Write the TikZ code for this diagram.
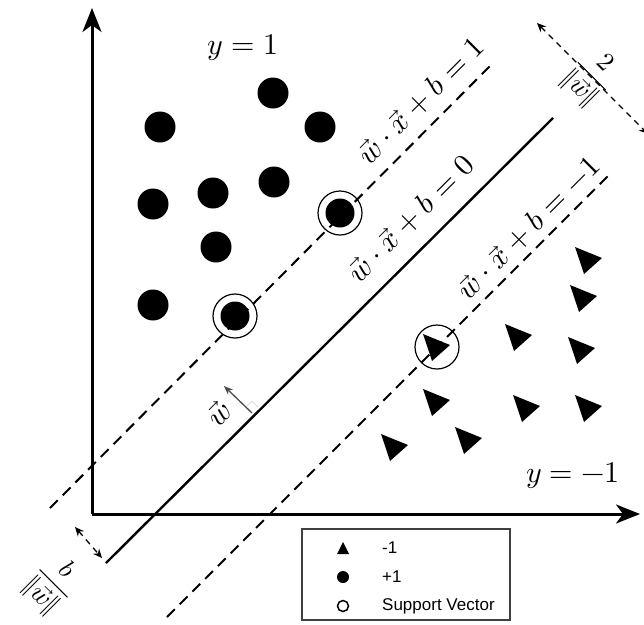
\documentclass[tikz,border=0pt]{standalone}
\usepackage{amsmath}
\usepackage{fontspec}
\usepackage{unicode-math}
\setmathfont{Latin Modern Math}
\setsansfont{Liberation Sans}
\usetikzlibrary{arrows.meta}
\begin{document}
\begin{tikzpicture}[x=1pt,y=-1pt,
  axis/.style={line width=3pt,-{Stealth[length=24pt,width=19pt,inset=7pt]}},
  hyper/.style={line width=2.4pt},
  marginline/.style={line width=2pt,dash pattern=on 11pt off 7pt},
  dot/.style={circle,fill=black,inner sep=0pt,minimum size=31pt},
  svdot/.style={circle,fill=black,inner sep=0pt,minimum size=29pt},
  svring/.style={circle,draw=black,line width=1.2pt,inner sep=0pt,minimum size=44pt},
  eqlabel/.style={font=\fontsize{30}{34}\selectfont,rotate=45,inner sep=0pt},
  fraclabel/.style={font=\fontsize{26}{30}\selectfont,rotate=-45,inner sep=0pt},
  ylabel/.style={font=\fontsize{30}{34}\selectfont,inner sep=0pt},
  legtext/.style={font=\sffamily\fontsize{17}{20}\selectfont,anchor=west,inner sep=0pt},
  tri/.pic={\fill (-12,-13) -- (15,-2) -- (-3,14) -- cycle;},
  dimarrow/.style={line width=1.3pt,dash pattern=on 6pt off 5pt,{Stealth[length=9pt,width=8pt]}-{Stealth[length=9pt,width=8pt]}}
]
\clip (0,0) rectangle (644,624);
\fill[white] (0,0) rectangle (644,624);

% axes
\coordinate (O) at (92,514);
\coordinate (ytip) at (92,8);
\coordinate (xtip) at (640,514);
\draw[axis] (O) -- (ytip);
\draw[axis] (O) -- (xtip);

% hyperplanes
\coordinate (up1) at (50,508);
\coordinate (up2) at (493,63);
\coordinate (mid1) at (106,563);
\coordinate (mid2) at (553,118);
\coordinate (lo1) at (167,617);
\coordinate (lo2) at (612,172);
\draw[marginline] (up1) -- (up2);
\draw[hyper] (mid1) -- (mid2);
\draw[marginline] (lo1) -- (lo2);

% margin width arrow
\coordinate (mA) at (537,23);
\coordinate (mB) at (648,134);
\draw[dimarrow] (mA) -- (mB);
\node[fraclabel] (twow) at (591,77) {$\dfrac{2}{\|\vec{w}\|}$};

% bias arrow
\coordinate (bA) at (75,527);
\coordinate (bB) at (102,558);
\draw[dimarrow] (bA) -- (bB);
\node[fraclabel] (bw) at (53,584) {$\dfrac{b}{\|\vec{w}\|}$};

% normal vector
\coordinate (wbase) at (252,413);
\coordinate (wtip) at (224,386);
\draw[gray!25,line width=1pt] (246,407) -- (252,401) -- (258,407);
\draw[black!70,line width=1.3pt,-{Stealth[length=9pt,width=7pt]}] (wbase) -- (wtip);
\node[eqlabel] (wlab) at (219,413) {$\vec{w}$};

% equation labels
\node[eqlabel] (eq1) at (421,101) {$\vec{w}\cdot\vec{x}+b=1$};
\node[eqlabel] (eq0) at (411,219) {$\vec{w}\cdot\vec{x}+b=0$};
\node[eqlabel] (eqm) at (529,228) {$\vec{w}\cdot\vec{x}+b=-1$};

% class labels
\node[ylabel] (yp) at (243,48) {$y=1$};
\node[ylabel] (ym) at (573,476) {$y=-1$};

% +1 points
\node[dot] (p1) at (273,93) {};
\node[dot] (p2) at (160,127) {};
\node[dot] (p3) at (320,127) {};
\node[dot] (p4) at (153,204) {};
\node[dot] (p5) at (213,193) {};
\node[dot] (p6) at (274,182) {};
\node[dot] (p7) at (216,247) {};
\node[dot] (p8) at (153,305) {};
\node[svdot] (s1) at (340,213) {};
\node[svring] (r1) at (340,213) {};
\node[svdot] (s2) at (235,316) {};
\node[svring] (r2) at (235,316) {};

% -1 points
\pic at (587,260) {tri};
\pic at (582,298) {tri};
\pic at (517,337) {tri};
\pic at (580,350) {tri};
\pic at (435,347) {tri};
\node[svring] (r3) at (437,347) {};
\pic at (435,402) {tri};
\pic at (525,408) {tri};
\pic at (587,408) {tri};
\pic at (393,447) {tri};
\pic at (467,440) {tri};

% legend
\node[draw=black!75,line width=1.5pt,minimum width=208pt,minimum height=91pt,inner sep=0pt] (legend) at (406,574.5) {};
\fill (337,554) -- (349,554) -- (343,542) -- cycle;
\fill (343,577) circle (6);
\draw[line width=1.5pt] (343,606) circle (5.5);
\node[legtext] (l1) at (382,548) {-1};
\node[legtext] (l2) at (382,577) {+1};
\node[legtext] (l3) at (382,606) {Support Vector};
\end{tikzpicture}
\end{document}
